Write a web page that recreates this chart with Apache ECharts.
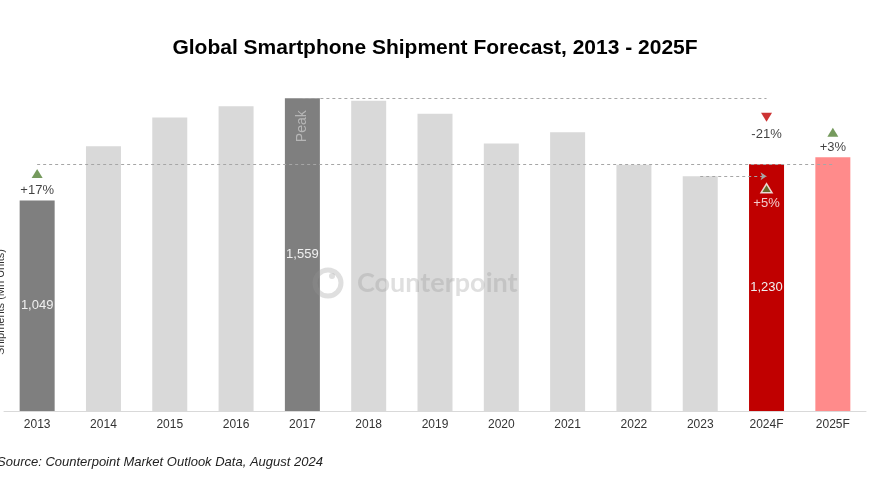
<!DOCTYPE html>
<html>
<head>
<meta charset="utf-8">
<script src="https://cdn.jsdelivr.net/npm/echarts@6/dist/echarts.min.js"></script>
<style>html,body{margin:0;padding:0;background:#fff;}#c{width:870px;height:492px;}</style>
</head>
<body>
<div id="c"></div>
<script>
const categories = ['2013','2014','2015','2016','2017','2018','2019','2020','2021','2022','2023','2024F','2025F'];
const shipments = [1049, 1320, 1463, 1519, 1559, 1546, 1481, 1333, 1390, 1227, 1170, 1230, 1265];
const valueLabels = {'2013':'1,049', '2017':'1,559', '2024F':'1,230'};
const barColors = {'2013':'#7f7f7f', '2017':'#7f7f7f', '2024F':'#c00000', '2025F':'#ff8b8b'};
const defaultBarColor = '#d9d9d9';
// growth annotations: category, text, direction, placement
const growthNotes = [
  {cat:'2013', text:'+17%', dir:'up', color:'#538135', textDy:-10, triDy:-27, textColor:'#111', border:null},
  {cat:'2024F', text:'-21%', dir:'down', color:'#c00000', textDy:-30, triDy:-47, textColor:'#111', border:null},
  {cat:'2025F', text:'+3%', dir:'up', color:'#538135', textDy:-10, triDy:-25, textColor:'#111', border:null},
  {cat:'2024F', text:'+5%', dir:'up', color:'#538135', textDy:39, triDy:24, textColor:'#ffffff', border:'#ffffff'}
];
const valOf = c => shipments[categories.indexOf(c)];

const chart = echarts.init(document.getElementById('c'), null, {renderer:'canvas'});
const dashStyle = {color:'#a6a6a6', type:[3,3], width:1};

const option = {
  animation:false,
  title:{
    text:'Global Smartphone Shipment Forecast, 2013 - 2025F',
    left:'center', top:33,
    textStyle:{fontFamily:'Liberation Sans, Arial', fontWeight:'bold', fontSize:21, color:'#000'}
  },
  grid:{left:4, right:4, top:90, bottom:81},
  xAxis:{
    type:'category', data:categories,
    axisLine:{lineStyle:{color:'#d9d9d9'}},
    axisTick:{show:false},
    axisLabel:{color:'#333', fontSize:12, margin:8, fontFamily:'Liberation Sans, Arial'}
  },
  yAxis:{type:'value', min:0, max:1600, show:false, splitLine:{show:false}},
  series:[
    {
      type:'bar', barWidth:35, z:2,
      data:categories.map((c,i)=>({
        value:shipments[i],
        itemStyle:{color:barColors[c]||defaultBarColor},
        label:{show:!!valueLabels[c], position:'inside', formatter:valueLabels[c]||'', color:'#f0f0f0', fontSize:13, fontFamily:'Liberation Sans, Arial'}
      })),
      markLine:{
        silent:true, symbol:['none','none'], z:3,
        lineStyle:dashStyle, label:{show:false},
        data:[
          [{coord:['2013', valOf('2024F')]}, {coord:['2025F', valOf('2024F')]}],
          [{coord:['2017', valOf('2017')]}, {coord:['2024F', valOf('2017')]}],
          [{coord:['2023', valOf('2023')], symbol:'none'}, {coord:['2024F', valOf('2023')], symbol:'arrow', symbolSize:[6,6]}]
        ]
      }
    },
    {
      // "Peak" marker in the peak bar
      type:'scatter', symbolSize:0, z:5,
      data:[{value:['2017', valOf('2017')]}],
      label:{show:true, position:'inside', formatter:'Peak', rotate:90, offset:[-28,0], color:'#c4c4c4', fontSize:14, fontFamily:'Liberation Sans, Arial'}
    },
    {
      // growth triangles
      type:'scatter', z:6,
      data:growthNotes.map(n=>({
        value:[n.cat, valOf(n.cat)],
        symbol:'triangle', symbolSize:[11,9],
        symbolRotate:n.dir==='down'?180:0,
        symbolOffset:[0,n.triDy],
        itemStyle:{color:n.color, borderColor:n.border||n.color, borderWidth:n.border?1.5:0}
      }))
    },
    {
      // growth texts
      type:'scatter', symbolSize:0, z:7,
      data:growthNotes.map(n=>({
        value:[n.cat, valOf(n.cat)],
        label:{show:true, position:'inside', formatter:n.text, offset:[0,n.textDy], color:n.textColor, fontSize:13, fontFamily:'Liberation Sans, Arial'}
      }))
    }
  ],
  graphic:[
    {type:'text', left:-3, top:456, style:{text:'Source: Counterpoint Market Outlook Data, August 2024', fontSize:13, fontStyle:'italic', fontFamily:'Liberation Sans, Arial', fill:'#222'}},
    {type:'text', x:-5, y:302, rotation:Math.PI/2, style:{text:'Shipments (Mn Units)', fontSize:11, fontFamily:'Liberation Sans, Arial', fill:'#333', align:'center', verticalAlign:'top'}},
    {type:'circle', shape:{cx:328, cy:283, r:13}, style:{fill:'none', stroke:'rgba(150,150,150,0.3)', lineWidth:5}, z:10},
    {type:'circle', shape:{cx:332, cy:276, r:3}, style:{fill:'rgba(150,150,150,0.3)'}, z:10},
    {type:'text', x:357, y:283, style:{text:'Counterpoint', fontSize:27, fontWeight:'bold', fontFamily:'Lato, Liberation Sans', fill:'rgba(150,150,150,0.3)', verticalAlign:'middle'}, z:10}
  ]
};
chart.setOption(option);
</script>
</body>
</html>
